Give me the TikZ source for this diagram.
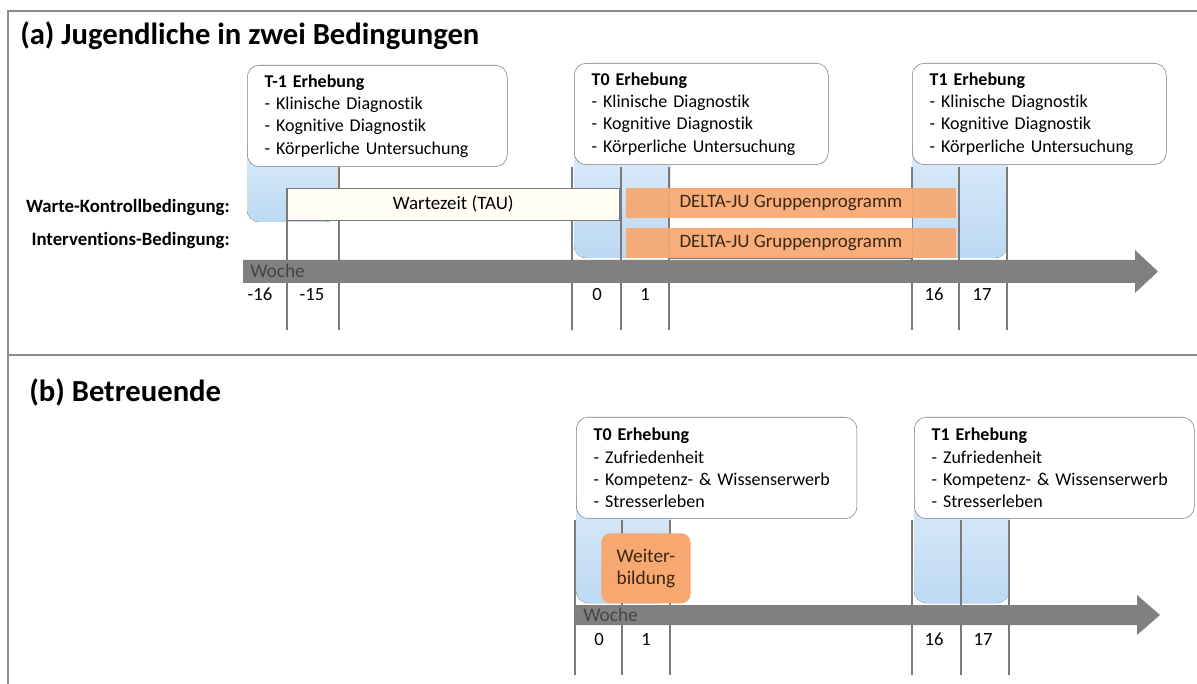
\documentclass[tikz,border=0pt]{standalone}
\usepackage{fontspec}
\setmainfont{Carlito}[Ligatures=CommonOff]
\usepackage{tikz}
\usetikzlibrary{positioning,calc}
\definecolor{FrameGray}{HTML}{8C8C8C}
\definecolor{LineGray}{HTML}{7A7A7A}
\definecolor{BarGray}{HTML}{808080}
\definecolor{WocheText}{HTML}{454545}
\definecolor{TabBlue}{HTML}{BCD9F3}
\definecolor{TabBlueLight}{HTML}{DCEBF9}
\definecolor{ProgOrange}{HTML}{F7A870}
\definecolor{ProgText}{HTML}{3A2614}
\definecolor{WaitFill}{HTML}{FFFDF4}

\begin{document}
\begin{tikzpicture}[x=0.75pt,y=-0.75pt,
    erhebung/.style={rectangle,rounded corners=9pt,draw=LineGray,fill=white,anchor=north west,
        align=left,inner xsep=13pt,minimum height=76pt,font=\fontsize{13.5}{16.7}\selectfont},
    tab/.style={rounded corners=9pt,top color=TabBlueLight,bottom color=TabBlue},
    prog/.style={rectangle,fill=ProgOrange,text=ProgText,inner sep=0pt,font=\fontsize{14.2}{15}\selectfont},
    cond/.style={anchor=east,inner sep=0pt,font=\bfseries\fontsize{14.1}{16}\selectfont},
    week/.style={text height=1.55ex,text depth=0.2ex,inner sep=0pt,font=\fontsize{14}{16}\selectfont},
    tick/.style={draw=LineGray,line width=0.8pt},
    woche/.style={anchor=west,text=WocheText,inner sep=0pt,font=\fontsize{14.5}{16}\selectfont},
    titel/.style={anchor=west,inner sep=0pt,font=\bfseries\fontsize{23}{26}\selectfont}
]
\useasboundingbox (0,0) rectangle (1197,684);
% frame
\draw[FrameGray,line width=1.5pt] (8,684) -- (8,11) -- (1197,11);
\draw[FrameGray,line width=1.5pt] (8,355) -- (1197,355);

%%% (a) Jugendliche
\node[titel] (ta) at (20,36) {(a) Jugendliche in zwei Bedingungen};

\fill[tab] (247,140) rectangle (337,222);
\fill[tab] (574,140) rectangle (670,258);
\fill[tab] (912,140) rectangle (1007,258);

\foreach \x in {339,572,621,669,912,959,1007}{
    \draw[tick] (\x,167) -- (\x,330);
}
\draw[tick] (287,188) -- (287,330);

\node[erhebung,minimum width=195pt,text width=169pt] (am1) at (247,65)
    {\textbf{T-1 Erhebung}\\- Klinische Diagnostik\\- Kognitive Diagnostik\\- Körperliche Untersuchung};
\node[erhebung,minimum width=190.5pt,text width=164.5pt] (a0) at (574,63)
    {\textbf{T0 Erhebung}\\- Klinische Diagnostik\\- Kognitive Diagnostik\\- Körperliche Untersuchung};
\node[erhebung,minimum width=190.5pt,text width=164.5pt] (a1) at (912,63)
    {\textbf{T1 Erhebung}\\- Klinische Diagnostik\\- Kognitive Diagnostik\\- Körperliche Untersuchung};

\node[cond] (kontroll) at (230,207) {Warte-Kontrollbedingung:};
\node[cond] (interv) at (230,240) {Interventions-Bedingung:};

\node[rectangle,draw=LineGray,fill=WaitFill,anchor=north west,minimum width=249pt,minimum height=24pt,
    font=\fontsize{14.2}{15}\selectfont] (wait) at (287,188) {Wartezeit (TAU)};
\draw[LineGray,fill=white] (669,188) rectangle (912,258);
\node[prog,anchor=north west,minimum width=247pt,minimum height=22.5pt,fill opacity=0.93,text opacity=1] (progk) at (626,188) {DELTA-JU Gruppenprogramm};
\node[prog,anchor=north west,minimum width=247pt,minimum height=22pt,fill opacity=0.93,text opacity=1] (progi) at (626,228) {DELTA-JU Gruppenprogramm};

\fill[BarGray] (243,260) -- (1135,260) -- (1135,250) -- (1158,271.5) -- (1135,293) -- (1135,283) -- (243,283) -- cycle;
\node[woche] (wa) at (250,271) {Woche};
\foreach \x/\w in {260/-16,312/-15,597/0,645/1,934/16,982/17}{
    \node[week] (wka\w) at (\x,296) {\w};
}

%%% (b) Betreuende
\node[titel] (tb) at (29,392) {(b) Betreuende};

\fill[tab] (576,490) rectangle (670,603);
\fill[tab] (914,490) rectangle (1009,603);

\foreach \x in {575,622,670,912,961,1009}{
    \draw[tick] (\x,520) -- (\x,675);
}

\node[erhebung,minimum width=210.5pt,text width=184.5pt] (b0) at (576,417)
    {\textbf{T0 Erhebung}\\- Zufriedenheit\\- Kompetenz- \& Wissenserwerb\\- Stresserleben};
\node[erhebung,minimum width=210pt,text width=184pt] (b1) at (914,417)
    {\textbf{T1 Erhebung}\\- Zufriedenheit\\- Kompetenz- \& Wissenserwerb\\- Stresserleben};

\node[prog,rounded corners=7pt,anchor=north west,minimum width=67pt,minimum height=52.5pt,align=center,
    font=\fontsize{14.5}{16.5}\selectfont] (weiter) at (601,533) {Weiter-\\bildung};

\fill[BarGray] (575,605) -- (1137,605) -- (1137,595) -- (1160,615) -- (1137,635) -- (1137,625) -- (575,625) -- cycle;
\node[woche] (wb) at (583,615) {Woche};
\foreach \x/\w in {599/0,646/1,934/16,983/17}{
    \node[week] (wkb\w) at (\x,641) {\w};
}
\end{tikzpicture}
\end{document}
